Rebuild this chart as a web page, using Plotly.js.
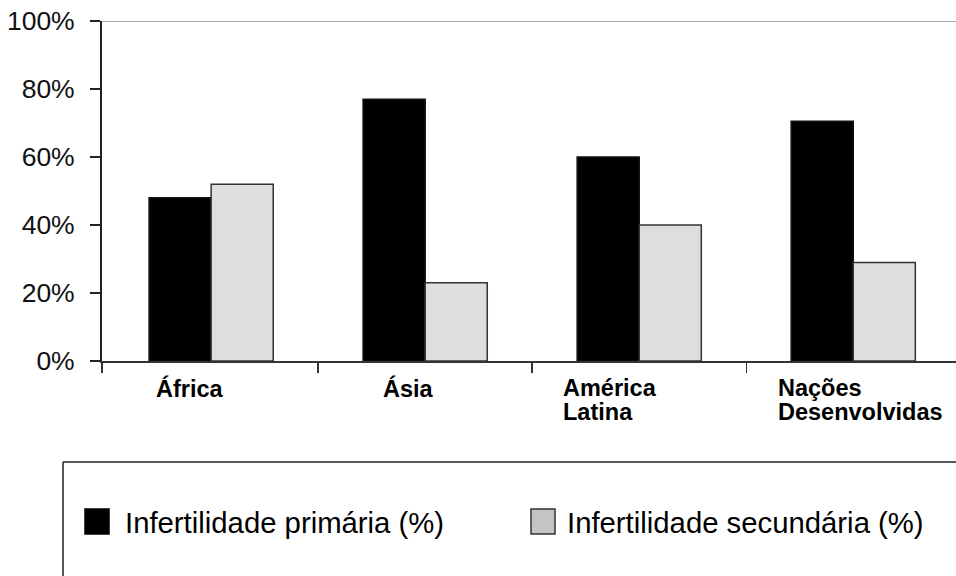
<!DOCTYPE html>
<html>
<head>
<meta charset="utf-8">
<script src="https://cdn.plot.ly/plotly-3.0.1.min.js"></script>
<style>html,body{margin:0;padding:0;background:#fff;}#chart{width:956px;height:576px;}</style>
</head>
<body>
<div id="chart"></div>
<script>
// ---- data ----
var categories = ["África", "Ásia", "América<br>Latina", "Nações<br>Desenvolvidas"];
var seriesNames = ["Infertilidade primária (%)", "Infertilidade secundária (%)"];
var primaria = [48, 77, 60, 70.5];
var secundaria = [52, 23, 40, 29];
var yTickVals = [0, 20, 40, 60, 80, 100];
var yTickText = yTickVals.map(function (v) { return v + "%"; });

// ---- layout helpers (pixel geometry) ----
var W = 956, H = 576, L = 102, T = 21, B = 215;
var plotW = W - L, plotH = H - T - B;
function px(p) { return (p - L) / plotW; }
function py(p) { return (H - B - p) / plotH; }
var labelShift = [-57, -44, -78, -77];

var catIdx = categories.map(function (c, i) { return i; });

var traces = [
  {
    type: "bar", x: catIdx, y: primaria, name: seriesNames[0], showlegend: false,
    marker: { color: "#000000", line: { color: "#111111", width: 1.5 } },
    hoverinfo: "y"
  },
  {
    type: "bar", x: catIdx, y: secundaria, name: seriesNames[1], showlegend: false,
    marker: { color: "#dedede", line: { color: "#333333", width: 1.5 } },
    hoverinfo: "y"
  }
];

var annotations = [];
categories.forEach(function (c, i) {
  var lines = c.split("<br>");
  lines.forEach(function (ln, j) {
    annotations.push({
      xref: "x", yref: "paper", x: i, xshift: labelShift[i],
      y: py(388 + j * 24), xanchor: "left", yanchor: "middle",
      text: ln, showarrow: false,
      font: { family: "Liberation Sans, Arial, sans-serif", size: 23.5, color: "#000", weight: "bold" }
    });
  });
});

// custom legend
var legendItems = [
  { name: seriesNames[0], sx: 85, tx: 123, fill: "#000000", line: "#000000" },
  { name: seriesNames[1], sx: 531, tx: 565, fill: "#c4c4c4", line: "#333333" }
];
var shapes = [
  // top reference line at 100%
  { type: "line", xref: "paper", yref: "y", x0: 0, x1: 1, y0: 100, y1: 100,
    line: { color: "#aaaaaa", width: 2 } },
  // legend box (top and left edges)
  { type: "line", xref: "paper", yref: "paper", x0: px(63), x1: px(960), y0: py(462), y1: py(462),
    line: { color: "#222", width: 1.5 } },
  { type: "line", xref: "paper", yref: "paper", x0: px(63), x1: px(63), y0: py(462), y1: py(580),
    line: { color: "#222", width: 1.5 } }
];
legendItems.forEach(function (it) {
  shapes.push({ type: "rect", xref: "paper", yref: "paper",
    x0: px(it.sx), x1: px(it.sx + 24), y0: py(509), y1: py(534),
    fillcolor: it.fill, line: { color: it.line, width: 1.5 } });
  annotations.push({ xref: "paper", yref: "paper", x: px(it.tx), y: py(522),
    xanchor: "left", yanchor: "middle", text: it.name, showarrow: false,
    font: { family: "Liberation Sans, Arial, sans-serif", size: 29.3, color: "#000" } });
});

var layout = {
  width: W, height: H,
  margin: { l: L, r: 0, t: T, b: B, pad: 0 },
  paper_bgcolor: "#fff", plot_bgcolor: "#fff",
  barmode: "group", bargap: 0.42, bargroupgap: 0,
  showlegend: false,
  font: { family: "Liberation Sans, Arial, sans-serif", color: "#111" },
  xaxis: {
    type: "linear", range: [-0.51, 3.48], tickmode: "array", tickvals: [-0.51, 0.5, 1.5, 2.5, 3.5],
    showticklabels: false, ticks: "outside", ticklen: 10, tickwidth: 1.5, tickcolor: "#333",
    showline: true, linecolor: "#333", linewidth: 2, showgrid: false, zeroline: false,
    fixedrange: true
  },
  yaxis: {
    range: [0, 100], tickmode: "array", tickvals: yTickVals, ticktext: yTickText,
    ticks: "outside", ticklen: 10, tickwidth: 1.5, tickcolor: "#222",
    ticklabelstandoff: 10,
    tickfont: { family: "Liberation Sans, Arial, sans-serif", size: 26.5, color: "#111" },
    showline: true, linecolor: "#222", linewidth: 2, showgrid: false, zeroline: false,
    fixedrange: true
  },
  shapes: shapes,
  annotations: annotations
};

Plotly.newPlot("chart", traces, layout, { staticPlot: true, displayModeBar: false });
</script>
</body>
</html>
